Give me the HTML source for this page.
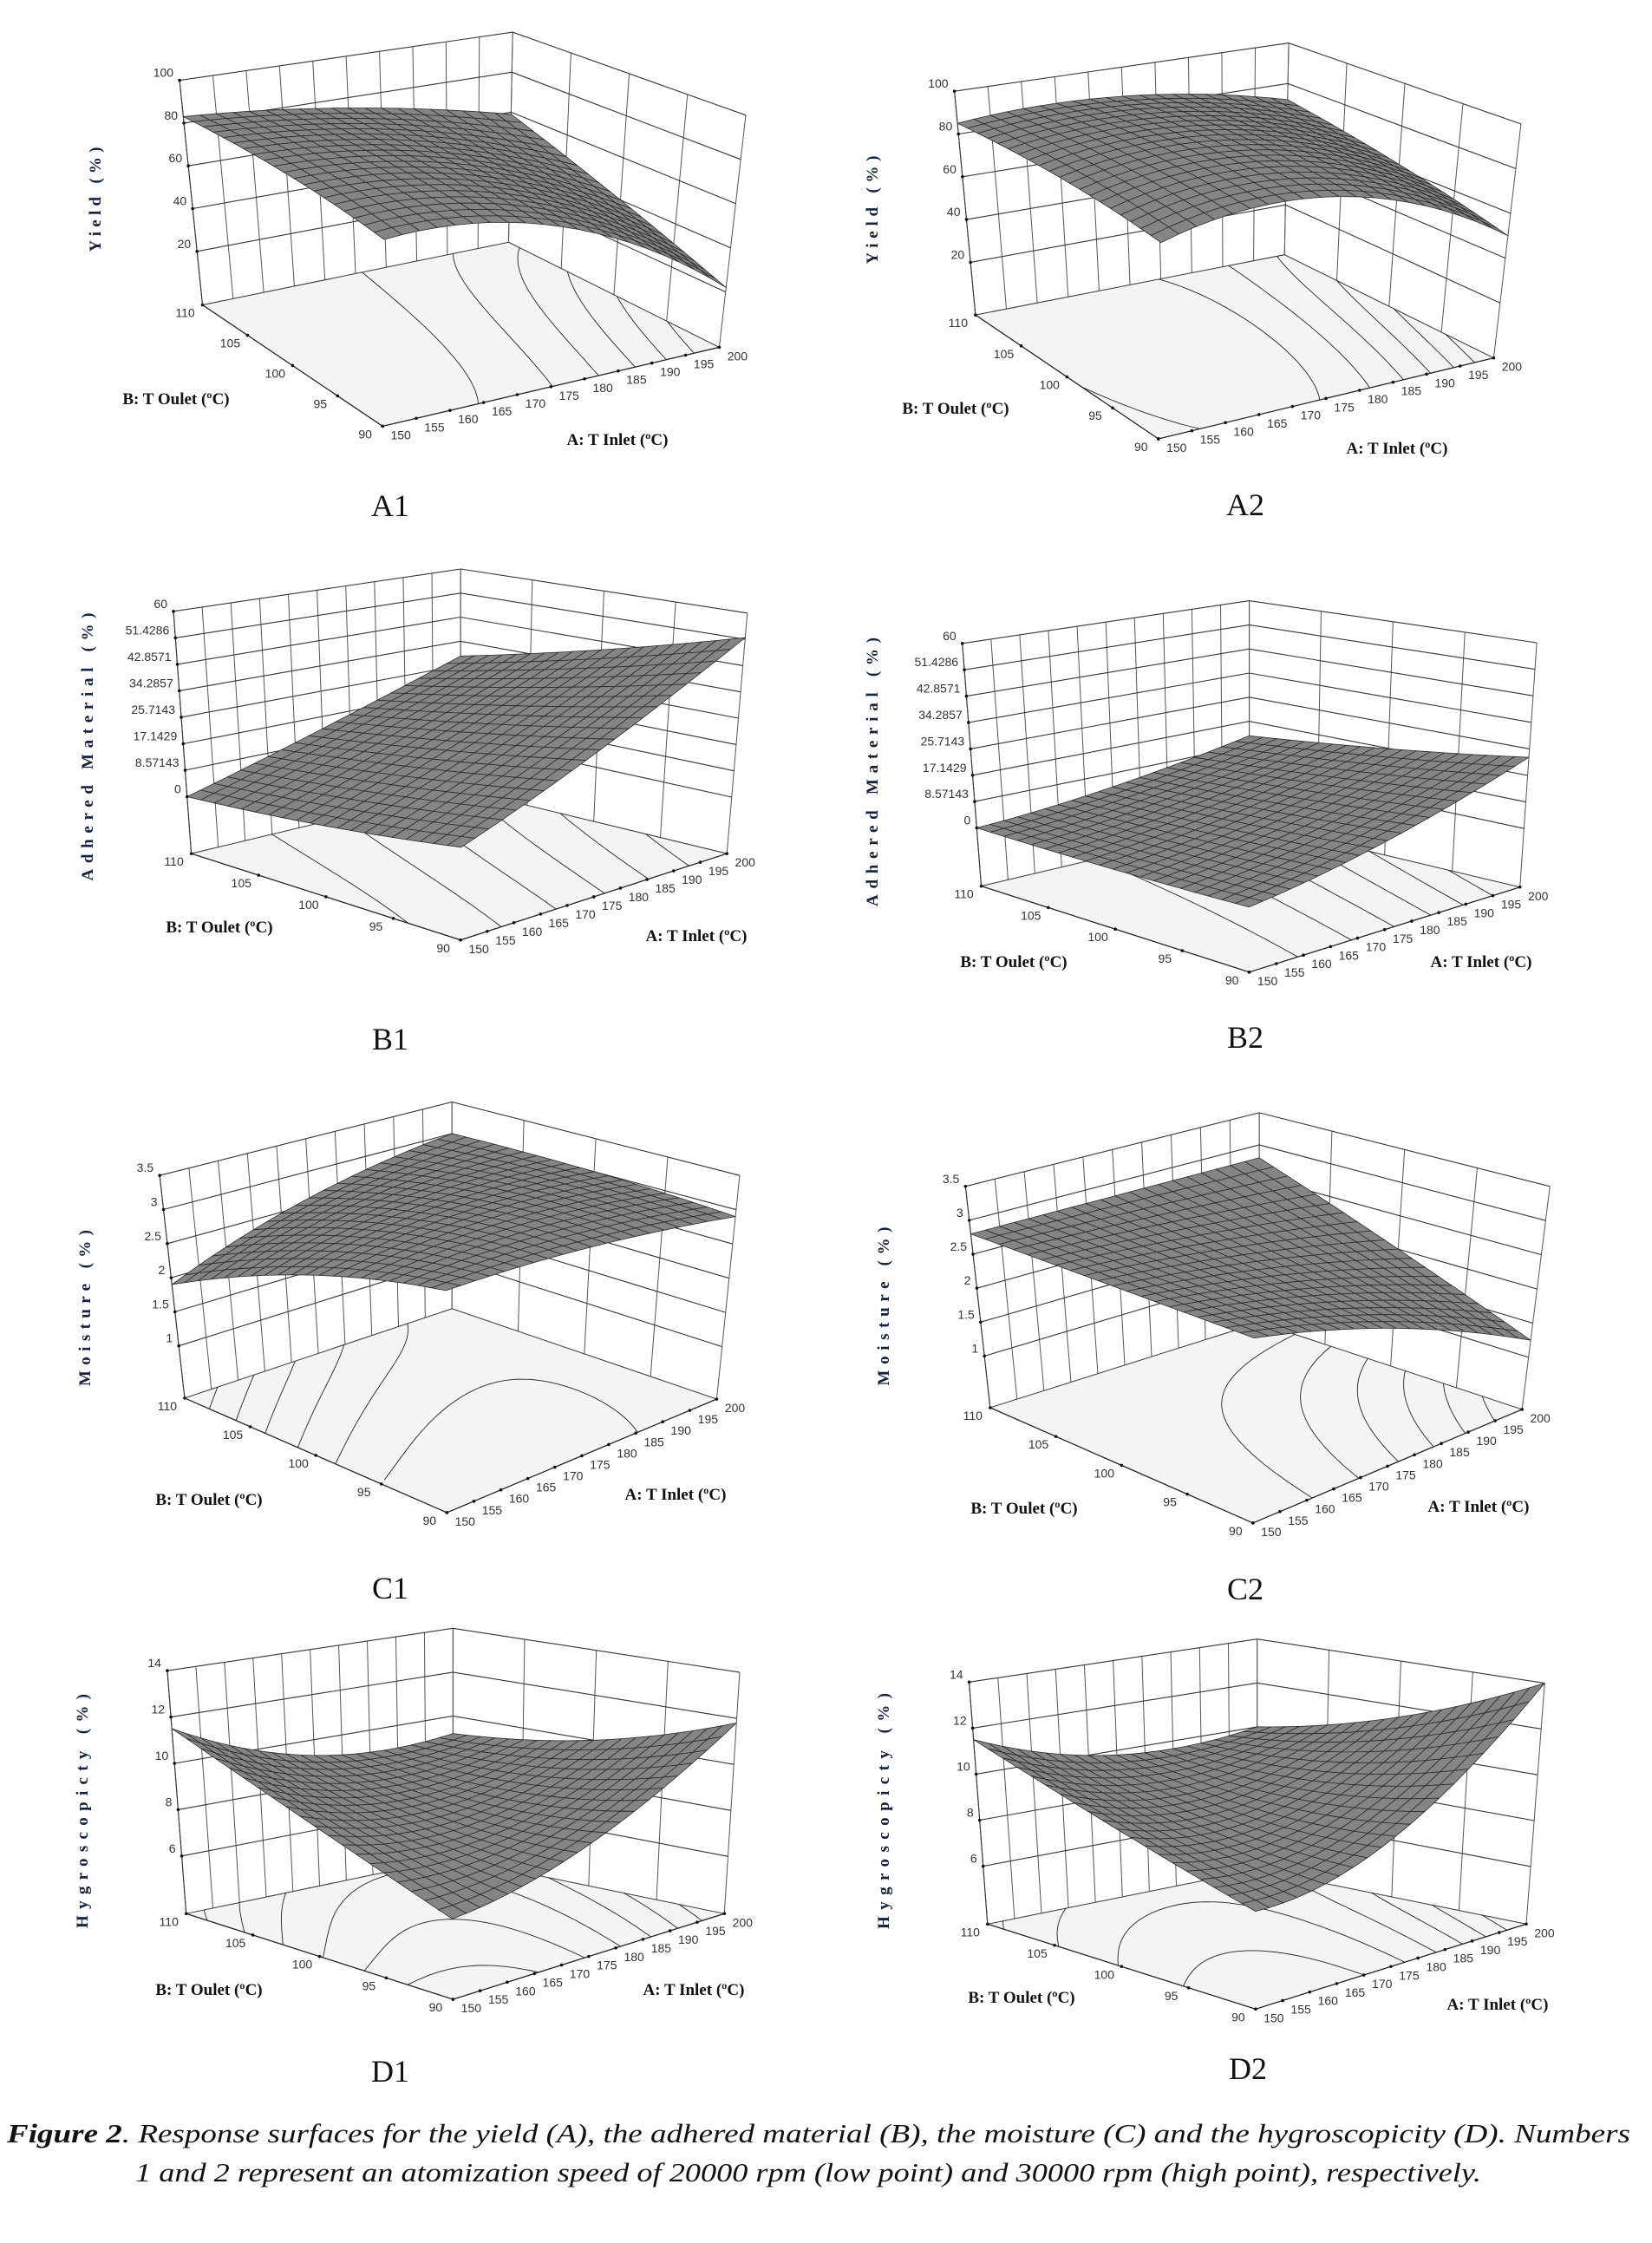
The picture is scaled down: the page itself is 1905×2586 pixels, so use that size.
<!DOCTYPE html>
<html><head><meta charset="utf-8"><title>Figure 2 - Response surfaces</title>
<style>
html,body{margin:0;padding:0;background:#fff;}
svg{display:block;}
.tick{font-family:"Liberation Sans",sans-serif;font-size:14px;fill:#333;}
.axt{font-family:"Liberation Serif",serif;font-size:19px;font-weight:bold;fill:#111;}
.ylab{font-family:"Liberation Serif",serif;font-size:19px;font-weight:bold;fill:#14223f;}
.plab{font-family:"Liberation Serif",serif;font-size:36px;fill:#111;}
.cap{font-family:"Liberation Serif",serif;font-size:31px;font-style:italic;fill:#111;}
</style></head>
<body>
<svg id="fig" xmlns="http://www.w3.org/2000/svg" width="1905" height="2586" viewBox="0 0 1905 2586">
<rect x="0" y="0" width="1905" height="2586" fill="#fff"/>
<text class="cap" x="8" y="2470" textLength="1872" lengthAdjust="spacingAndGlyphs"><tspan font-weight="bold">Figure 2</tspan>. Response surfaces for the yield (A), the adhered material (B), the moisture (C) and the hygroscopicity (D). Numbers</text>
<text class="cap" x="156" y="2515" textLength="1552" lengthAdjust="spacingAndGlyphs">1 and 2 represent an atomization speed of 20000 rpm (low point) and 30000 rpm (high point), respectively.</text>
</svg>
<script>
// ---- data ----
const aTicks = [150,155,160,165,170,175,180,185,190,195,200];
const bTicks = [90,95,100,105,110];
const aNodes = [150,175,200];
const bNodes = [90,100,110];
const yieldTicks = [20,40,60,80,100];
const adheredTicks = [0,8.57143,17.1429,25.7143,34.2857,42.8571,51.4286,60];
const moistureTicks = [1,1.5,2,2.5,3,3.5];
const hygroTicks = [6,8,10,12,14];
// rows: B = 90,100,110 ; cols: A = 150,175,200
const surfA1 = [[76,66,22],[82,72,40],[83,75,59]];
const surfA2 = [[80,84,50],[85,88,62],[85,86,72]];
const surfB1 = [[10,28,52],[4,20,40],[0,13,29]];
const surfB2 = [[1,9,23],[0,6,17],[0,4,12]];
const surfC1 = [[3.3,3.2,2.9],[2.8,3.1,3.0],[1.9,2.6,3.0]];
const surfC2 = [[2.8,2.2,1.25],[2.8,2.5,2.0],[2.8,2.8,2.8]];
const surfD1 = [[6.8,8.3,11.8],[9,8.2,10],[11.5,9.3,9.2]];
const surfD2 = [[7.5,9,14],[9.3,8.8,11.5],[11.5,9.8,10]];

// ---- geometry (zoom-crop coordinates, converted below) ----
const LEFT = {ox:0, sx:1.70, sy:2.56};
const RIGHT = {ox:960, sx:1.65, sy:2.52};
const panels = [
 {id:'a1', col:LEFT, oy:0, data:surfA1, zt:yieldTicks, ytitle:'Yield (%)', ylen:121, yc:[109,230],
  L:[397,900],F:[750,1258],R:[1410,1025],Bk:[997,715],TL:[352,237],TR:[1462,340],TBk:[1005,95],z0:742,
  bt:[203,459], at:[712,506], lab:'A1', lp:[450,582]},
 {id:'a2', col:RIGHT, oy:0, data:surfA2, zt:yieldTicks, ytitle:'Yield (%)', ylen:125, yc:[1005,242],
  L:[272,915],F:[620,1275],R:[1258,1040],Bk:[860,740],TL:[232,265],TR:[1310,360],TBk:[868,125],z0:762,
  bt:[1102,470], at:[1611,516], lab:'A2', lp:[1436,581]},
 {id:'b1', col:LEFT, oy:615, data:surfB1, zt:adheredTicks, ytitle:'Adhered Material (%)', ylen:309, yc:[100,861],
  L:[375,945],F:[903,1200],R:[1425,945],Bk:[903,755],TL:[340,230],TR:[1465,235],TBk:[903,105],z0:777,
  bt:[253,1068], at:[803,1078], lab:'B1', lp:[450,1197]},
 {id:'b2', col:RIGHT, oy:620, data:surfB2, zt:adheredTicks, ytitle:'Adhered Material (%)', ylen:310, yc:[1005,890],
  L:[283,1012],F:[793,1262],R:[1308,1015],Bk:[793,828],TL:[247,307],TR:[1340,305],TBk:[793,183],z0:843,
  bt:[1169,1108], at:[1708,1108], lab:'B2', lp:[1436,1195]},
 {id:'c1', col:LEFT, oy:1240, data:surfC1, zt:moistureTicks, ytitle:'Moisture (%)', ylen:180, yc:[97,1508],
  L:[362,952],F:[876,1290],R:[1405,955],Bk:[886,688],TL:[313,295],TR:[1450,295],TBk:[886,78],z0:798,
  bt:[241,1728], at:[779,1722], lab:'C1', lp:[450,1830]},
 {id:'c2', col:RIGHT, oy:1240, data:surfC2, zt:moistureTicks, ytitle:'Moisture (%)', ylen:183, yc:[1018,1506],
  L:[300,965],F:[800,1300],R:[1312,970],Bk:[812,718],TL:[253,322],TR:[1365,322],TBk:[812,108],z0:815,
  bt:[1181,1738], at:[1705,1736], lab:'C2', lp:[1436,1831]},
 {id:'d1', col:LEFT, oy:1850, data:surfD1, zt:hygroTicks, ytitle:'Hygroscopicty (%)', ylen:270, yc:[94,2088],
  L:[365,912],F:[888,1165],R:[1420,912],Bk:[888,748],TL:[328,195],TR:[1450,200],TBk:[888,70],z0:742,
  bt:[241,2293], at:[800,2293], lab:'D1', lp:[450,2387]},
 {id:'d2', col:RIGHT, oy:1850, data:surfD2, zt:hygroTicks, ytitle:'Hygroscopicty (%)', ylen:272, yc:[1018,2088],
  L:[295,928],F:[805,1175],R:[1320,928],Bk:[808,770],TL:[260,225],TR:[1355,228],TBk:[808,100],z0:760,
  bt:[1178,2302], at:[1727,2310], lab:'D2', lp:[1439,2384]}
];

const NS = 'http://www.w3.org/2000/svg';
const svg = document.getElementById('fig');
function mk(tag, attrs, parent){
  const e = document.createElementNS(NS, tag);
  for (const k in attrs) e.setAttribute(k, attrs[k]);
  (parent||svg).appendChild(e);
  return e;
}
function lag(nodes, vals, x){
  let s=0;
  for (let i=0;i<3;i++){ let t=vals[i]; for (let j=0;j<3;j++) if(j!==i) t*=(x-nodes[j])/(nodes[i]-nodes[j]); s+=t; }
  return s;
}
function surfZ(data, a, b){
  const rows = data.map(r => lag(aNodes, r, a));
  return lag(bNodes, rows, b);
}

panels.forEach(p => {
  const c = p.col;
  const cv = q => [c.ox + q[0]/c.sx, p.oy + q[1]/c.sy];
  const L=cv(p.L), F=cv(p.F), R=cv(p.R), Bk=cv(p.Bk), TL=cv(p.TL), TR=cv(p.TR), TBk=cv(p.TBk);
  const TF = [F[0] + ((TL[0]-L[0])+(TR[0]-R[0]))/2*1.06, F[1] + ((TL[1]-L[1])+(TR[1]-R[1]))/2*1.06];
  const z0y = p.oy + p.z0/c.sy;
  const g = (L[1]-z0y)/(L[1]-TL[1]);
  const zmin = p.zt[0], zmax = p.zt[p.zt.length-1];
  const bil = (P00,P10,P01,P11,u,v) => [
    P00[0]*(1-u)*(1-v)+P10[0]*u*(1-v)+P01[0]*(1-u)*v+P11[0]*u*v,
    P00[1]*(1-u)*(1-v)+P10[1]*u*(1-v)+P01[1]*(1-u)*v+P11[1]*u*v];
  const proj = (u,v,f) => { const b=bil(F,R,L,Bk,u,v), t=bil(TF,TR,TL,TBk,u,v); return [b[0]+f*(t[0]-b[0]), b[1]+f*(t[1]-b[1])]; };
  const uA = a => (a-150)/50, vB = b => (b-90)/20;
  const fZ = z => g + (1-g)*(z-zmin)/(zmax-zmin);
  const pts = arr => arr.map(q => q[0].toFixed(1)+','+q[1].toFixed(1)).join(' ');

  const grp = mk('g', {});
  
  

  const wallB = mk('polygon', {points: pts([proj(0,1,0),proj(1,1,0),proj(1,1,1),proj(0,1,1)]), fill:'#fff', stroke:'none'}, grp);
  
  
  const wallA = mk('polygon', {points: pts([proj(1,1,0),proj(1,0,0),proj(1,0,1),proj(1,1,1)]), fill:'#fff', stroke:'none'}, grp);
  
  
  aTicks.forEach(a => {
    const q1=proj(uA(a),1,0), q2=proj(uA(a),1,1);
    const ln = mk('line', {x1:q1[0],y1:q1[1],x2:q2[0],y2:q2[1],stroke:'#555','stroke-width':1}, grp);
    
    
  });
  bTicks.forEach(b => {
    const q1=proj(1,vB(b),0), q2=proj(1,vB(b),1);
    const ln = mk('line', {x1:q1[0],y1:q1[1],x2:q2[0],y2:q2[1],stroke:'#555','stroke-width':1}, grp);
    
    
  });
  p.zt.forEach(z => {
    const f=fZ(z);
    const q1=proj(0,1,f), q2=proj(1,1,f), q3=proj(1,0,f);
    const ln = mk('polyline', {points: pts([q1,q2,q3]), fill:'none', stroke:'#333','stroke-width':1.1}, grp);
    
    
  });

  const floor = mk('polygon', {points: pts([F,R,Bk,L]), fill:'#f4f4f4', stroke:'#333','stroke-width':1}, grp);
  
  

  const N=40; const vals=[];
  let vmin=Infinity, vmax=-Infinity;
  for (let i=0;i<=N;i++){ vals.push([]); for (let j=0;j<=N;j++){ const z=surfZ(p.data,150+50*j/N,90+20*i/N); vals[i].push(z); vmin=Math.min(vmin,z); vmax=Math.max(vmax,z);} }
  let d='';
  for (let k=1;k<=6;k++){
    const lv = vmin + (vmax-vmin)*k/7;
    for (let i=0;i<N;i++) for (let j=0;j<N;j++){
      const cs=[[j,i,vals[i][j]],[j+1,i,vals[i][j+1]],[j+1,i+1,vals[i+1][j+1]],[j,i+1,vals[i+1][j]]];
      const hits=[];
      for (let e=0;e<4;e++){
        const p1=cs[e], p2=cs[(e+1)%4];
        if ((p1[2]-lv)*(p2[2]-lv)<0){ const t=(lv-p1[2])/(p2[2]-p1[2]); hits.push([(p1[0]+t*(p2[0]-p1[0]))/N,(p1[1]+t*(p2[1]-p1[1]))/N]); }
      }
      if (hits.length>=2){ const a=proj(hits[0][0],hits[0][1],0), b=proj(hits[1][0],hits[1][1],0); d+='M'+a[0].toFixed(1)+' '+a[1].toFixed(1)+'L'+b[0].toFixed(1)+' '+b[1].toFixed(1); }
    }
  }
  const cont = mk('path', {d:d, fill:'none', stroke:'#222','stroke-width':0.9}, grp);
  
  

  const axB = mk('line', {x1:F[0],y1:F[1],x2:L[0],y2:L[1],stroke:'#222','stroke-width':1.2}, grp);
  
  
  const axA = mk('line', {x1:F[0],y1:F[1],x2:R[0],y2:R[1],stroke:'#222','stroke-width':1.2}, grp);
  
  

  const M=20; const cells=[];
  for (let i=0;i<M;i++) for (let j=0;j<M;j++){
    const corner=(jj,ii)=>{ const u=jj/M, v=ii/M; return proj(u,v,fZ(surfZ(p.data,150+50*u,90+20*v))); };
    const q=[corner(j,i),corner(j+1,i),corner(j+1,i+1),corner(j,i+1)];
    const dep=proj((j+0.5)/M,(i+0.5)/M,0)[1];
    cells.push({q:q,dep:dep});
  }
  cells.sort((x,y)=>x.dep-y.dep);
  const sg = mk('g', {}, grp);
  
  
  cells.forEach(cl => {
    const poly = mk('polygon', {points: pts(cl.q), fill:'#858585', stroke:'#2a2a2a','stroke-width':0.8,'stroke-linejoin':'round'}, sg);
    
    
  });

  aTicks.forEach(a => {
    const q=proj(uA(a),0,0);
    const dot = mk('circle', {cx:q[0],cy:q[1],r:1.8,fill:'#111'}, grp);
    
    
    const t = mk('text', {x:q[0]+21,y:q[1]+15,'text-anchor':'middle',class:'tick'}, grp);
    t.textContent = a;
    
    
  });
  bTicks.forEach(b => {
    const q=proj(0,vB(b),0);
    const dot = mk('circle', {cx:q[0],cy:q[1],r:1.8,fill:'#111'}, grp);
    
    
    const t = mk('text', {x:q[0]-20,y:q[1]+14,'text-anchor':'middle',class:'tick'}, grp);
    t.textContent = b;
    
    
  });
  const zax = mk('line', {x1:L[0],y1:L[1],x2:TL[0],y2:TL[1],stroke:'#333','stroke-width':1.1}, grp);
  
  
  p.zt.forEach(z => {
    const q=proj(0,1,fZ(z));
    const dot = mk('circle', {cx:q[0],cy:q[1],r:1.8,fill:'#111'}, grp);
    
    
    const t = mk('text', {x:q[0]-7,y:q[1]-4,'text-anchor':'end',class:'tick'}, grp);
    t.textContent = z;
    
    
  });

  const yt = mk('text', {x:0,y:0,'text-anchor':'middle',class:'ylab',transform:'translate('+p.yc[0]+','+p.yc[1]+') rotate(-90) translate(0,7)',textLength:p.ylen,lengthAdjust:'spacing'}, grp);
  yt.textContent = p.ytitle;
  
  
  const bt = mk('text', {x:p.bt[0],y:p.bt[1]+7,'text-anchor':'middle',class:'axt'}, grp);
  bt.textContent = 'B: T Oulet  (\u00baC)';
  
  
  const at = mk('text', {x:p.at[0],y:p.at[1]+7,'text-anchor':'middle',class:'axt'}, grp);
  at.textContent = 'A: T Inlet  (\u00baC)';
  
  
  const pl = mk('text', {x:p.lp[0],y:p.lp[1]+13,'text-anchor':'middle',class:'plab'}, grp);
  pl.textContent = p.lab;
  
  
});
</script>
</body></html>
